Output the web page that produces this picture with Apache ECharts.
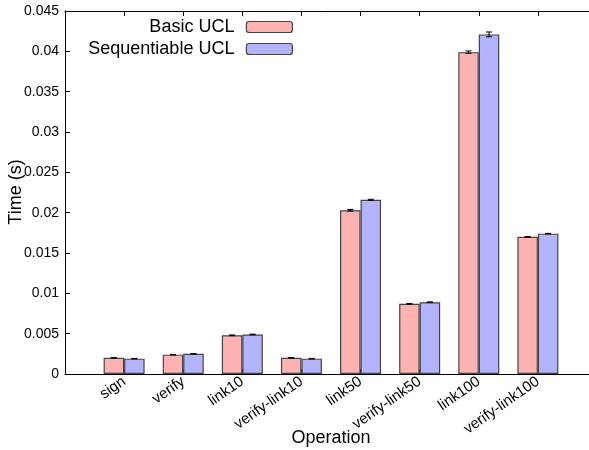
<!DOCTYPE html>
<html>
<head>
<meta charset="utf-8">
<script src="https://cdn.jsdelivr.net/npm/echarts@6/dist/echarts.min.js"></script>
<style>html,body{margin:0;padding:0;background:#fff}#c{width:589px;height:450px}</style>
</head>
<body>
<div id="c"></div>
<script>
var categories = ['sign','verify','link10','verify-link10','link50','verify-link50','link100','verify-link100'];
var basicUCL = [0.0020, 0.0024, 0.0048, 0.0020, 0.0203, 0.0087, 0.0399, 0.0170];
var seqUCL   = [0.0019, 0.0025, 0.0049, 0.0019, 0.0216, 0.0089, 0.0421, 0.0174];
var basicErr = [0.00003, 0.00003, 0.00004, 0.00003, 0.0001, 0.00003, 0.00015, 0.00004];
var seqErr   = [0.00003, 0.00003, 0.00004, 0.00003, 0.00006, 0.00004, 0.0003, 0.00003];
var yTicks = [0, 0.005, 0.01, 0.015, 0.02, 0.025, 0.03, 0.035, 0.04, 0.045];

var BW = 20.5;
var font = 'Liberation Sans';
function pairs(arr){ return arr.map(function(v,i){ return [i, v]; }); }
function errData(vals, errs){ return vals.map(function(v,i){ return [i, v, errs[i]]; }); }
function errRender(offset){
  return function(params, api){
    var x = api.value(0), v = api.value(1), e = api.value(2);
    var hi = api.coord([x, v + e]), lo = api.coord([x, v - e]);
    var cx = hi[0] + offset;
    var st = {stroke:'#000', lineWidth:1};
    return {type:'group', children:[
      {type:'line', shape:{x1:cx, y1:hi[1], x2:cx, y2:lo[1]}, style:st},
      {type:'line', shape:{x1:cx-3, y1:hi[1], x2:cx+3, y2:hi[1]}, style:st},
      {type:'line', shape:{x1:cx-3, y1:lo[1], x2:cx+3, y2:lo[1]}, style:st}
    ]};
  };
}
var chart = echarts.init(document.getElementById('c'), null, {renderer:'canvas'});
var axisLineStyle = {color:'#000', width:1};
chart.setOption({
  animation:false,
  textStyle:{fontFamily:font},
  grid:{left:65, top:11, width:532, height:363, containLabel:false, outerBoundsMode:'none'},
  legend:[
    {data:['Basic UCL'], orient:'vertical', align:'right', right:296, top:18, padding:0,
     icon:'roundRect', itemWidth:46, itemHeight:11,
     textStyle:{fontSize:18, color:'#000', fontFamily:font, padding:[0,7,0,0]},
     itemStyle:{borderColor:'#444', borderWidth:1.2}},
    {data:['Sequentiable UCL'], orient:'vertical', align:'right', right:296, top:40, padding:0,
     icon:'roundRect', itemWidth:46, itemHeight:11,
     textStyle:{fontSize:18, color:'#000', fontFamily:font, padding:[0,7,0,0]},
     itemStyle:{borderColor:'#444', borderWidth:1.2}}
  ],
  graphic:[
    {type:'text', rotation:Math.PI/2, x:16, y:192,
     style:{text:'Time (s)', fontSize:18, fill:'#000', fontFamily:font, textAlign:'center', textVerticalAlign:'middle'}},
    {type:'text', x:331, y:438,
     style:{text:'Operation', fontSize:18, fill:'#000', fontFamily:font, textAlign:'center', textVerticalAlign:'middle'}}
  ],
  xAxis:[
    {type:'value', min:-1, max:8, interval:1, position:'bottom',
     axisLine:{show:true, onZero:false, lineStyle:axisLineStyle},
     axisTick:{show:true, inside:true, length:5, lineStyle:axisLineStyle},
     splitLine:{show:false},
     axisLabel:{rotate:35, fontSize:15, color:'#000', margin:6, fontFamily:font,
       formatter:function(v){ var i=Math.round(v); return (i>=0 && i<categories.length)?categories[i]:''; }}},
    {type:'value', min:-1, max:8, interval:1, position:'top',
     axisLine:{show:true, onZero:false, lineStyle:axisLineStyle},
     axisTick:{show:true, inside:true, length:5, lineStyle:axisLineStyle},
     splitLine:{show:false}, axisLabel:{show:false}}
  ],
  yAxis:{type:'value', min:0, max:0.045, interval:0.005, position:'left',
    axisLine:{show:true, onZero:false, lineStyle:axisLineStyle},
    axisTick:{show:true, inside:true, length:5, lineStyle:axisLineStyle},
    splitLine:{show:false},
    axisLabel:{fontSize:14, color:'#000', margin:6, fontFamily:font,
      formatter:function(v){ return String(Number(v.toFixed(4))); }}},
  series:[
    {name:'Basic UCL', type:'bar', xAxisIndex:0, data:pairs(basicUCL), barWidth:BW, barGap:'0%',
     itemStyle:{color:'#ffb2b2', borderColor:'#444', borderWidth:1.2}},
    {name:'Sequentiable UCL', type:'bar', xAxisIndex:0, data:pairs(seqUCL), barWidth:BW, barGap:'0%',
     itemStyle:{color:'#b3b3fe', borderColor:'#444', borderWidth:1.2}},
    {type:'custom', xAxisIndex:0, data:errData(basicUCL, basicErr), renderItem:errRender(-BW/2), z:5},
    {type:'custom', xAxisIndex:0, data:errData(seqUCL, seqErr), renderItem:errRender(BW/2), z:5}
  ]
});
</script>
</body>
</html>
